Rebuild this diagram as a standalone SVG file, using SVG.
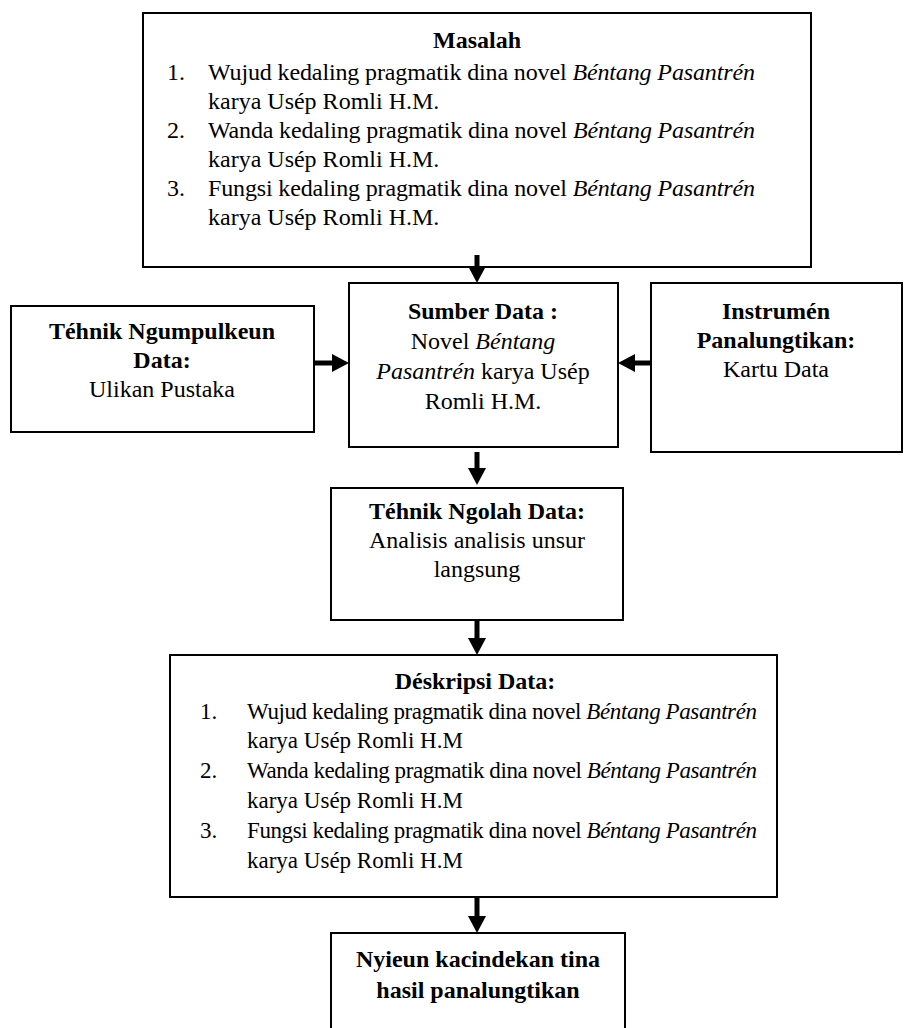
<svg xmlns="http://www.w3.org/2000/svg" width="905" height="1028" viewBox="0 0 905 1028">
<style>
.box{fill:#fff;stroke:#000;stroke-width:2}
.t{font-family:"Liberation Serif","Times New Roman",serif;font-size:24px;fill:#000}
.s{font-size:23px}
.b{font-weight:bold}
.c{text-anchor:middle}
.i{font-style:italic}
.arr{stroke:#000;stroke-width:5;fill:none;marker-end:url(#ah)}
</style>
<defs>
<marker id="ah" viewBox="0 0 17 18" refX="4" refY="9" markerWidth="17" markerHeight="18" markerUnits="userSpaceOnUse" orient="auto">
<path d="M0,0 L17,9 L0,18 z" fill="#000"/>
</marker>
</defs>
<rect width="905" height="1028" fill="#fff"/>

<g id="masalah">
<rect class="box" x="143" y="13" width="668" height="254"/>
<text class="t b c" x="477" y="48">Masalah</text>
<text class="t" x="167" y="80">1.</text>
<text class="t" x="208" y="80" textLength="547" lengthAdjust="spacing">Wujud kedaling pragmatik dina novel <tspan class="i">Béntang Pasantrén</tspan></text>
<text class="t" x="208" y="109">karya Usép Romli H.M.</text>
<text class="t" x="167" y="138">2.</text>
<text class="t" x="208" y="138" textLength="547" lengthAdjust="spacing">Wanda kedaling pragmatik dina novel <tspan class="i">Béntang Pasantrén</tspan></text>
<text class="t" x="208" y="167">karya Usép Romli H.M.</text>
<text class="t" x="167" y="196">3.</text>
<text class="t" x="208" y="196" textLength="547" lengthAdjust="spacing">Fungsi kedaling pragmatik dina novel <tspan class="i">Béntang Pasantrén</tspan></text>
<text class="t" x="208" y="225">karya Usép Romli H.M.</text>
</g>

<g id="teknik-ngumpulkeun">
<rect class="box" x="11" y="306" width="303" height="126"/>
<text class="t b c" x="162" y="339">Téhnik Ngumpulkeun</text>
<text class="t b c" x="162" y="368">Data:</text>
<text class="t c" x="162" y="397">Ulikan Pustaka</text>
</g>

<g id="sumber-data">
<rect class="box" x="349" y="283" width="269" height="164"/>
<text class="t b c" x="483" y="319">Sumber Data :</text>
<text class="t c" x="483" y="349">Novel <tspan class="i">Béntang</tspan></text>
<text class="t c" x="483" y="379"><tspan class="i">Pasantrén</tspan> karya Usép</text>
<text class="t c" x="483" y="409">Romli H.M.</text>
</g>

<g id="instrumen">
<rect class="box" x="651" y="283" width="251" height="169"/>
<text class="t b c" x="776" y="319">Instrumén</text>
<text class="t b c" x="776" y="348">Panalungtikan:</text>
<text class="t c" x="776" y="377">Kartu Data</text>
</g>

<g id="teknik-ngolah">
<rect class="box" x="331" y="488" width="292" height="132"/>
<text class="t b c" x="477" y="519">Téhnik Ngolah Data:</text>
<text class="t c" x="477" y="548">Analisis analisis unsur</text>
<text class="t c" x="477" y="577">langsung</text>
</g>

<g id="deskripsi">
<rect class="box" x="170" y="655" width="607" height="242"/>
<text class="t b c" x="475" y="689">Déskripsi Data:</text>
<text class="t s" x="200" y="719">1.</text>
<text class="t s" x="247" y="719" textLength="510" lengthAdjust="spacing">Wujud kedaling pragmatik dina novel <tspan class="i">Béntang Pasantrén</tspan></text>
<text class="t s" x="247" y="748">karya Usép Romli H.M</text>
<text class="t s" x="200" y="778">2.</text>
<text class="t s" x="247" y="778" textLength="510" lengthAdjust="spacing">Wanda kedaling pragmatik dina novel <tspan class="i">Béntang Pasantrén</tspan></text>
<text class="t s" x="247" y="808">karya Usép Romli H.M</text>
<text class="t s" x="200" y="838">3.</text>
<text class="t s" x="247" y="838" textLength="510" lengthAdjust="spacing">Fungsi kedaling pragmatik dina novel <tspan class="i">Béntang Pasantrén</tspan></text>
<text class="t s" x="247" y="868">karya Usép Romli H.M</text>
</g>

<g id="nyieun">
<rect class="box" x="331" y="933" width="294" height="110"/>
<text class="t b c" x="478" y="967">Nyieun kacindekan tina</text>
<text class="t b c" x="478" y="998">hasil panalungtikan</text>
</g>

<g id="connectors">
<line class="arr" x1="477" y1="255" x2="477" y2="270"/>
<line class="arr" x1="314" y1="363" x2="336" y2="363"/>
<line class="arr" x1="651" y1="363" x2="631" y2="363"/>
<line class="arr" x1="477" y1="452" x2="477" y2="472"/>
<line class="arr" x1="477" y1="620" x2="477" y2="642"/>
<line class="arr" x1="477" y1="897" x2="477" y2="920"/>
</g>
</svg>
